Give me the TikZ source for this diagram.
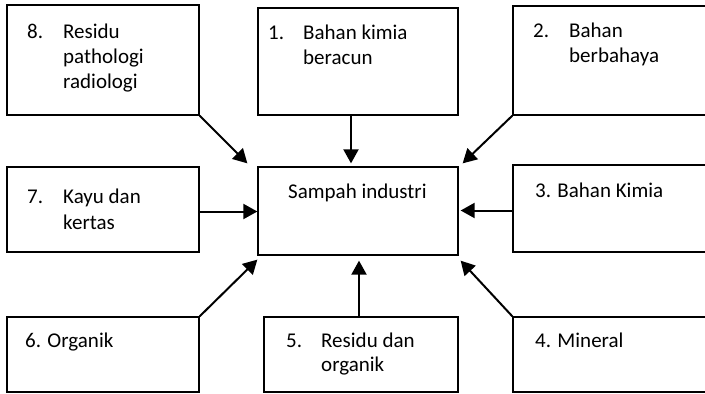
\documentclass[tikz,border=0pt]{standalone}
\usepackage{fontspec}
\setmainfont{Carlito}
\usetikzlibrary{arrows.meta,calc}
\tikzset{
  box/.style={draw=black, line width=1.3pt, rectangle, inner sep=0pt},
  lbl/.style={anchor=base west, inner sep=0pt, font=\fontsize{21}{25}\selectfont},
  conn/.style={line width=2pt, -{Triangle[length=14pt,width=15pt]}}
}
\begin{document}
\begin{tikzpicture}[x=1pt,y=-1pt]
\useasboundingbox (0,0) rectangle (705,394);
% boxes
\node[box, minimum width=192pt, minimum height=110pt] (b8) at (103,60) {};
\node[box, minimum width=200pt, minimum height=107pt] (b1) at (358,61.5) {};
\node[box, minimum width=207pt, minimum height=109pt] (b2) at (616.5,60.5) {};
\node[box, minimum width=192pt, minimum height=85pt] (b7) at (103,209.5) {};
\node[box, minimum width=200pt, minimum height=88pt] (c) at (358,211) {};
\node[box, minimum width=207pt, minimum height=87pt] (b3) at (616.5,208.5) {};
\node[box, minimum width=192pt, minimum height=75pt] (b6) at (103,354.5) {};
\node[box, minimum width=194pt, minimum height=75pt] (b5) at (361,354.5) {};
\node[box, minimum width=207pt, minimum height=75pt] (b4) at (616.5,354.5) {};
% texts
\node[lbl] (t8n) at (27,38) {8.};
\node[lbl] (t8a) at (63,38) {Residu};
\node[lbl] (t8b) at (63,63) {pathologi};
\node[lbl] (t8c) at (63,88) {radiologi};
\node[lbl] (t1n) at (268,39) {1.};
\node[lbl] (t1a) at (303,39) {Bahan kimia};
\node[lbl] (t1b) at (303,64) {beracun};
\node[lbl] (t2n) at (533,37) {2.};
\node[lbl] (t2a) at (569,37) {Bahan};
\node[lbl] (t2b) at (569,62) {berbahaya};
\node[lbl] (t7n) at (27,203) {7.};
\node[lbl] (t7a) at (63,203) {Kayu dan};
\node[lbl] (t7b) at (63,229) {kertas};
\node[lbl] (tc) at (288,198) {Sampah industri};
\node[lbl] (t3) at (535,197) {3. Bahan Kimia};
\node[lbl] (t6) at (25,347) {6. Organik};
\node[lbl] (t5n) at (286,347) {5.};
\node[lbl] (t5a) at (321,347) {Residu dan};
\node[lbl] (t5b) at (321,371) {organik};
\node[lbl] (t4) at (535,347) {4. Mineral};
% connectors
\draw[conn] (b8.south east) -- ($(c.north west)+(-10,-3)$);
\draw[conn] ($(b1.south)+(-7,0)$) -- ($(c.north)+(-7,-3)$);
\draw[conn] (b2.south west) -- ($(c.north east)+(4,-3)$);
\draw[conn] ($(b7.east)+(0,2)$) -- ($(c.west |- b7.east)+(0,2)$);
\draw[conn] ($(b3.west)+(0,2)$) -- ($(c.east |- b3.west)+(2,2)$);
\draw[conn] (b6.north east) -- ($(c.south west)+(0,4)$);
\draw[conn] ($(b5.north)+(-2,0)$) -- ($(b5.north |- c.south)+(-2,5)$);
\draw[conn] (b4.north west) -- ($(c.south east)+(2,5)$);
\end{tikzpicture}
\end{document}
